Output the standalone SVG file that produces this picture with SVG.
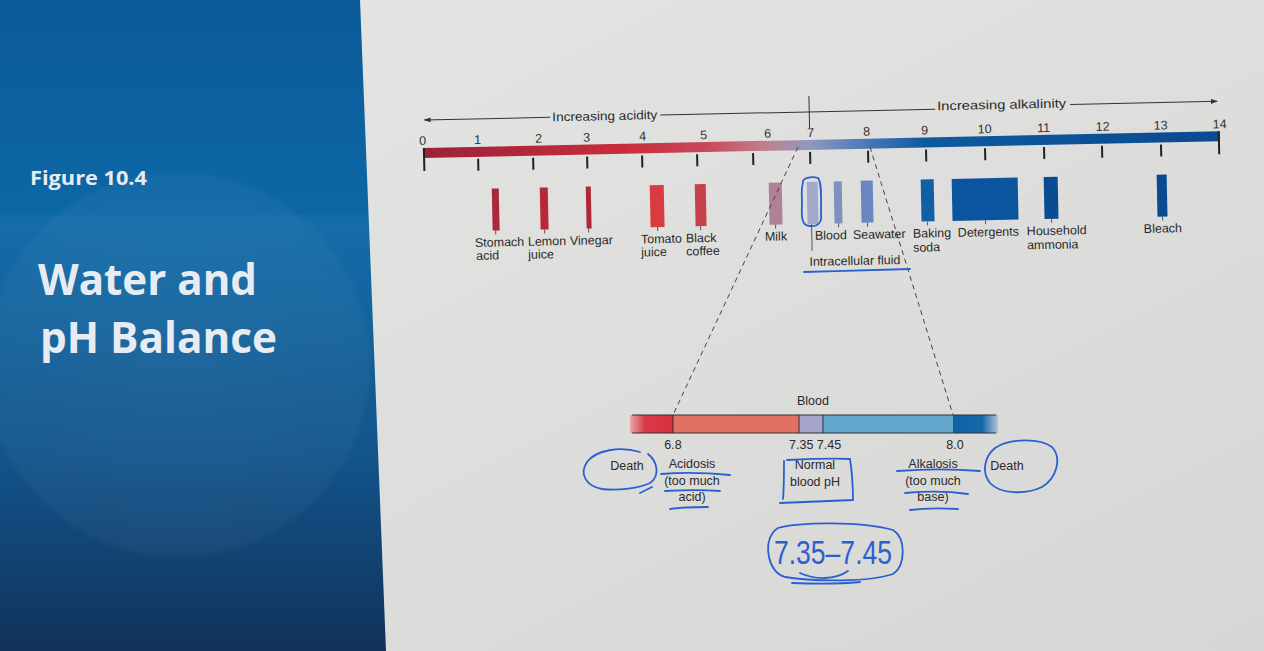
<svg xmlns="http://www.w3.org/2000/svg" width="1264" height="651" viewBox="0 0 1264 651">
  <defs>
    <linearGradient id="bgR" x1="0" y1="0" x2="1" y2="1">
      <stop offset="0" stop-color="#e6e6e4"/>
      <stop offset="1" stop-color="#d6d6d4"/>
    </linearGradient>
    <linearGradient id="bgL" x1="0" y1="0" x2="0" y2="1">
      <stop offset="0" stop-color="#0b5a9a"/>
      <stop offset="0.35" stop-color="#0d68a6"/>
      <stop offset="0.7" stop-color="#0b4f88"/>
      <stop offset="1" stop-color="#0a2c55"/>
    </linearGradient>
    <radialGradient id="glow" cx="0.5" cy="0.5" r="0.5">
      <stop offset="0" stop-color="#ffffff" stop-opacity="0.05"/>
      <stop offset="0.97" stop-color="#ffffff" stop-opacity="0.035"/>
      <stop offset="1" stop-color="#ffffff" stop-opacity="0"/>
    </radialGradient>
    <linearGradient id="scaleGrad" x1="423" y1="0" x2="1220" y2="0" gradientUnits="userSpaceOnUse">
      <stop offset="0" stop-color="#9c2238"/>
      <stop offset="0.25" stop-color="#c82c3c"/>
      <stop offset="0.36" stop-color="#c84a5a"/>
      <stop offset="0.43" stop-color="#c0808e"/>
      <stop offset="0.486" stop-color="#9098c0"/>
      <stop offset="0.557" stop-color="#4a78b8"/>
      <stop offset="0.63" stop-color="#0d5aa0"/>
      <stop offset="1" stop-color="#0a4a90"/>
    </linearGradient>
    <linearGradient id="redFade" x1="630" y1="0" x2="673" y2="0" gradientUnits="userSpaceOnUse">
      <stop offset="0" stop-color="#e8a8a8"/>
      <stop offset="0.35" stop-color="#d83a46"/>
      <stop offset="1" stop-color="#d8303e"/>
    </linearGradient>
    <linearGradient id="blueFade" x1="953" y1="0" x2="998" y2="0" gradientUnits="userSpaceOnUse">
      <stop offset="0" stop-color="#0f62a4"/>
      <stop offset="0.65" stop-color="#1468a8"/>
      <stop offset="1" stop-color="#b0c4d8"/>
    </linearGradient>
    <marker id="arr" viewBox="0 0 10 10" refX="9" refY="5" markerWidth="7" markerHeight="7" orient="auto-start-reverse" markerUnits="userSpaceOnUse">
      <path d="M0,1.5 L10,5 L0,8.5 Z" fill="#333"/>
    </marker>
    <style>
      .lbl{font-family:"Liberation Sans",Arial,sans-serif;font-size:12.5px;fill:#2a2a2a}
      .num{font-family:"Liberation Sans",Arial,sans-serif;font-size:12.5px;fill:#333;text-anchor:middle}
      .bl{font-family:"Liberation Sans",Arial,sans-serif;font-size:12.5px;fill:#2a2a2a;text-anchor:middle}
      .tick{stroke:#222;stroke-width:2}
      .sm{stroke:#555;stroke-width:1}
      .ink{fill:none;stroke:#2a5fd2;stroke-width:1.8;stroke-linecap:round;stroke-linejoin:round}
      .dash{fill:none;stroke:#444;stroke-width:1;stroke-dasharray:5 4}
      .ttl{font-family:"Open Sans","Noto Sans",sans-serif;font-weight:bold;fill:#e6ecf2}
    </style>
  </defs>

  <!-- backgrounds -->
  <rect x="0" y="0" width="1264" height="651" fill="url(#bgR)"/>
  <g id="side-panel">
    <polygon points="0,0 360,0 386,651 0,651" fill="url(#bgL)"/>
    <polygon points="0,215 371,215 386,651 0,651" fill="#ffffff" opacity="0.03"/>
    <circle cx="178" cy="365" r="195" fill="url(#glow)"/>
    <text class="ttl" x="30" y="185" font-size="19" textLength="117" lengthAdjust="spacingAndGlyphs">Figure 10.4</text>
    <text class="ttl" x="38" y="295" font-size="43" textLength="219" lengthAdjust="spacingAndGlyphs">Water and</text>
    <text class="ttl" x="40" y="353" font-size="43" textLength="237" lengthAdjust="spacingAndGlyphs">pH Balance</text>
  </g>

  <!-- pH scale (slightly rotated as in the photo) -->
  <g id="ph-scale" transform="rotate(-1.2 423 153)">
    <g id="scale-bar">
      <rect x="423" y="148" width="797" height="10" fill="url(#scaleGrad)"/>
      <line class="tick" x1="424" y1="148" x2="424" y2="171"/>
      <line class="tick" x1="1219" y1="148" x2="1219" y2="171"/>
      <g class="tick">
        <line x1="478" y1="160" x2="478" y2="172"/>
        <line x1="533" y1="160" x2="533" y2="172"/>
        <line x1="587" y1="160" x2="587" y2="172"/>
        <line x1="642" y1="160" x2="642" y2="172"/>
        <line x1="697" y1="160" x2="697" y2="172"/>
        <line x1="753" y1="160" x2="753" y2="172"/>
        <line x1="810" y1="160" x2="810" y2="172"/>
        <line x1="868" y1="160" x2="868" y2="172"/>
        <line x1="926" y1="160" x2="926" y2="172"/>
        <line x1="985" y1="160" x2="985" y2="172"/>
        <line x1="1044" y1="160" x2="1044" y2="172"/>
        <line x1="1102" y1="160" x2="1102" y2="172"/>
        <line x1="1161" y1="160" x2="1161" y2="172"/>
      </g>
      <text class="num" x="423" y="145">0</text>
      <text class="num" x="478" y="145">1</text>
      <text class="num" x="539" y="145">2</text>
      <text class="num" x="587" y="145">3</text>
      <text class="num" x="643" y="145">4</text>
      <text class="num" x="704" y="145">5</text>
      <text class="num" x="768" y="145">6</text>
      <text class="num" x="811" y="145">7</text>
      <text class="num" x="867" y="145">8</text>
      <text class="num" x="925" y="145">9</text>
      <text class="num" x="985" y="145">10</text>
      <text class="num" x="1044" y="145">11</text>
      <text class="num" x="1103" y="145">12</text>
      <text class="num" x="1161" y="145">13</text>
      <text class="num" x="1220" y="145">14</text>
    </g>

    <g id="direction-arrows">
      <line x1="551" y1="120" x2="425" y2="120" stroke="#333" stroke-width="1" marker-end="url(#arr)"/>
      <text class="lbl" x="553" y="124" font-size="13.5" textLength="105" lengthAdjust="spacingAndGlyphs">Increasing acidity</text>
      <line x1="661" y1="120" x2="936" y2="120" stroke="#333" stroke-width="1"/>
      <line x1="810" y1="104" x2="810" y2="136" stroke="#333" stroke-width="1"/>
      <text class="lbl" x="938" y="121" font-size="13.5" textLength="129" lengthAdjust="spacingAndGlyphs">Increasing alkalinity</text>
      <line x1="1071" y1="118" x2="1218" y2="118" stroke="#333" stroke-width="1" marker-end="url(#arr)"/>
    </g>

    <g id="stomach-acid">
      <rect x="491" y="190" width="7" height="42" fill="#a8283c"/>
      <line class="sm" x1="494" y1="232" x2="494" y2="236"/>
      <text class="lbl" x="473" y="248">Stomach</text>
      <text class="lbl" x="474" y="261">acid</text>
    </g>
    <g id="lemon-juice">
      <rect x="539" y="190" width="8" height="42" fill="#b82838"/>
      <line class="sm" x1="543" y1="232" x2="543" y2="236"/>
      <text class="lbl" x="526" y="248">Lemon</text>
      <text class="lbl" x="526" y="261">juice</text>
    </g>
    <g id="vinegar">
      <rect x="585" y="190" width="5" height="42" fill="#b02838"/>
      <line class="sm" x1="587" y1="232" x2="587" y2="236"/>
      <text class="lbl" x="568" y="248">Vinegar</text>
    </g>
    <g id="tomato-juice">
      <rect x="649" y="190" width="14" height="42" fill="#d83c40"/>
      <line class="sm" x1="656" y1="232" x2="656" y2="236"/>
      <text class="lbl" x="639" y="248">Tomato</text>
      <text class="lbl" x="639" y="261">juice</text>
    </g>
    <g id="black-coffee">
      <rect x="694" y="190" width="11" height="42" fill="#c84048"/>
      <line class="sm" x1="699" y1="232" x2="699" y2="236"/>
      <text class="lbl" x="684" y="248">Black</text>
      <text class="lbl" x="684" y="261">coffee</text>
    </g>
    <g id="milk">
      <rect x="768" y="190" width="13" height="42" fill="#b08098"/>
      <line class="sm" x1="774" y1="232" x2="774" y2="236"/>
      <text class="lbl" x="763" y="248">Milk</text>
    </g>
    <g id="intracellular-fluid">
      <rect x="806" y="190" width="11" height="42" fill="#a2a8c8"/>
      <line class="sm" x1="810" y1="232" x2="810" y2="259"/>
      <text class="lbl" x="807" y="274">Intracellular fluid</text>
    </g>
    <g id="blood">
      <rect x="833" y="190" width="8" height="42" fill="#7f8fbf"/>
      <line class="sm" x1="837" y1="232" x2="837" y2="236"/>
      <text class="lbl" x="813" y="248">Blood</text>
    </g>
    <g id="seawater">
      <rect x="860" y="190" width="12" height="42" fill="#6a86c0"/>
      <line class="sm" x1="866" y1="232" x2="866" y2="236"/>
      <text class="lbl" x="851" y="248">Seawater</text>
    </g>
    <g id="baking-soda">
      <rect x="920" y="190" width="13" height="42" fill="#1060a8"/>
      <line class="sm" x1="926" y1="232" x2="926" y2="236"/>
      <text class="lbl" x="911" y="248">Baking</text>
      <text class="lbl" x="911" y="262">soda</text>
    </g>
    <g id="detergents">
      <rect x="951" y="190" width="66" height="42" fill="#0b55a0"/>
      <line class="sm" x1="984" y1="232" x2="984" y2="236"/>
      <text class="lbl" x="956" y="248">Detergents</text>
    </g>
    <g id="household-ammonia">
      <rect x="1043" y="190" width="14" height="42" fill="#0a4c94"/>
      <line class="sm" x1="1050" y1="232" x2="1050" y2="236"/>
      <text class="lbl" x="1025" y="248">Household</text>
      <text class="lbl" x="1025" y="262">ammonia</text>
    </g>
    <g id="bleach">
      <rect x="1156" y="190" width="10" height="42" fill="#0a4a90"/>
      <line class="sm" x1="1161" y1="232" x2="1161" y2="236"/>
      <text class="lbl" x="1142" y="248">Bleach</text>
    </g>
  </g>

  <!-- connectors: zoom lines from scale to blood range -->
  <g id="connectors">
    <line class="dash" x1="798" y1="147" x2="673" y2="415"/>
    <line class="dash" x1="870" y1="147" x2="953" y2="415"/>
  </g>

  <!-- blood pH range -->
  <g id="blood-range">
    <text class="bl" x="813" y="405">Blood</text>
    <rect x="630" y="415" width="43" height="18" fill="url(#redFade)"/>
    <rect x="673" y="415" width="126" height="18" fill="#e07062"/>
    <rect x="799" y="415" width="24" height="18" fill="#a4a4c8"/>
    <rect x="823" y="415" width="130" height="18" fill="#62a8cc"/>
    <rect x="953" y="415" width="45" height="18" fill="url(#blueFade)"/>
    <g stroke="#333" stroke-width="1">
      <line x1="632" y1="415" x2="996" y2="415"/>
      <line x1="632" y1="433" x2="996" y2="433"/>
      <line x1="673" y1="415" x2="673" y2="433"/>
      <line x1="799" y1="415" x2="799" y2="433"/>
      <line x1="823" y1="415" x2="823" y2="433"/>
    </g>
    <text class="bl" x="673" y="449">6.8</text>
    <text class="lbl" x="789" y="449">7.35 7.45</text>
    <text class="bl" x="955" y="449">8.0</text>
    <g id="death-left"><text class="bl" x="627" y="470">Death</text></g>
    <g id="acidosis">
      <text class="bl" x="692" y="468">Acidosis</text>
      <text class="bl" x="692" y="485">(too much</text>
      <text class="bl" x="692" y="501">acid)</text>
    </g>
    <g id="normal">
      <text class="bl" x="815" y="469">Normal</text>
      <text class="bl" x="815" y="486">blood pH</text>
    </g>
    <g id="alkalosis">
      <text class="bl" x="933" y="468">Alkalosis</text>
      <text class="bl" x="933" y="485">(too much</text>
      <text class="bl" x="933" y="501">base)</text>
    </g>
    <g id="death-right"><text class="bl" x="1007" y="470">Death</text></g>
  </g>

  <!-- handwritten ink annotations -->
  <g id="ink-annotations">
    <path class="ink" d="M803,183 C801,178 812,176 818,178 C822,182 821,200 821,215 C822,222 818,227 810,226 C803,226 801,220 802,205 C802,195 801,188 803,183"/>
    <path class="ink" d="M804,272 C840,271 880,270 910,269"/>
    <path class="ink" d="M640,452 C620,446 596,450 587,462 C579,474 586,486 602,489 C618,491 640,488 650,483 C660,476 658,462 648,454"/>
    <path class="ink" d="M652,487 L640,493"/>
    <path class="ink" d="M661,474 C685,472 710,473 730,475"/>
    <path class="ink" d="M665,491 C685,490 705,490 720,491"/>
    <path class="ink" d="M670,509 C682,507 695,507 708,507"/>
    <path class="ink" d="M787,460 C808,459 830,458 850,459 C852,472 853,487 853,500 C830,501 805,502 780,503 M784,461 C784,475 784,488 783,499"/>
    <path class="ink" d="M897,471 C925,469 955,469 980,471"/>
    <path class="ink" d="M905,493 C925,491 948,491 968,494"/>
    <path class="ink" d="M910,510 C925,508 942,508 958,509"/>
    <path class="ink" d="M995,448 C1010,438 1040,438 1052,447 C1062,458 1057,478 1042,487 C1025,495 1000,494 990,483 C981,472 985,456 995,448"/>
    <path class="ink" d="M778,528 C800,522 860,521 893,530 C906,538 906,565 893,574 C870,582 815,582 785,577 C768,572 764,545 772,534 C774,531 776,529 778,528"/>
    <path class="ink" d="M800,573 C815,580 835,580 848,571" stroke-width="4"/>
    <path class="ink" d="M792,583 C815,584 840,584 860,582"/>
    <text x="774" y="564" font-family="'Liberation Sans',Arial,sans-serif" font-size="33" fill="#2a5fd2" textLength="118" lengthAdjust="spacingAndGlyphs">7.35–7.45</text>
  </g>
</svg>
